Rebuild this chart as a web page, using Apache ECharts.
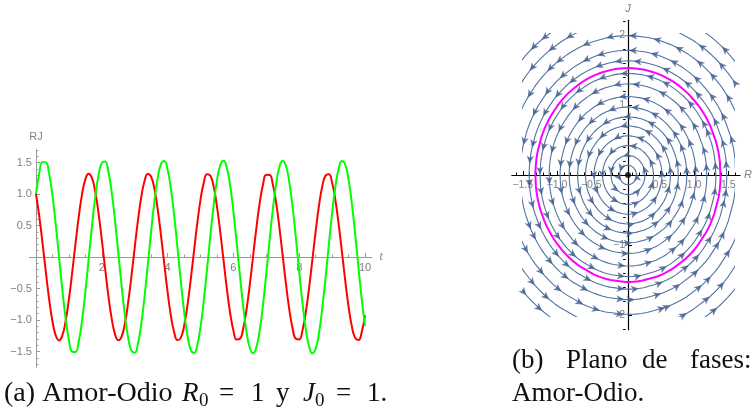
<!DOCTYPE html>
<html>
<head>
<meta charset="utf-8">
<title>Amor-Odio</title>
<script src="https://cdn.jsdelivr.net/npm/echarts@6.0.0/dist/echarts.min.js"></script>
<style>
  html, body { margin: 0; padding: 0; background: #ffffff; }
  #chart { width: 755px; height: 413px; }
</style>
</head>
<body>
<div id="chart"></div>
<script>
// Love–hate model with R(0) = 1, J(0) = 1; values sampled every 0.1 time units, t = 0 … 10
const tStep = 0.1;
const rValues = [
  1.000, 0.647, 0.216, -0.240, -0.667, -1.015, -1.243, -1.323, -1.246, -1.020,
  -0.674, -0.247, 0.208, 0.640, 0.995, 1.232, 1.322, 1.256, 1.040, 0.701,
  0.278, -0.177, -0.612, -0.974, -1.220, -1.321, -1.266, -1.060, -0.728, -0.309,
  0.146, 0.584, 0.952, 1.207, 1.319, 1.274, 1.078, 0.754, 0.340, -0.114,
  -0.555, -0.930, -1.194, -1.316, -1.283, -1.096, -0.780, -0.370, 0.083, 0.526,
  0.907, 1.180, 1.313, 1.290, 1.114, 0.805, 0.401, -0.051, -0.497, -0.884,
  -1.165, -1.309, -1.297, -1.130, -0.830, -0.431, 0.020, 0.468, 0.860, 1.150,
  1.304, 1.302, 1.146, 0.854, 0.460, 0.012, -0.438, -0.836, -1.134, -1.298,
  -1.308, -1.162, -0.878, -0.490, -0.044, 0.408, 0.811, 1.118, 1.292, 1.312,
  1.177, 0.901, 0.519, 0.075, -0.378, -0.786, -1.100, -1.284, -1.316, -1.191,
  -0.924
];
const jValues = [
  1.000, 1.333, 1.507, 1.502, 1.319, 0.979, 0.523, 0.005, -0.514, -0.972,
  -1.314, -1.501, -1.508, -1.337, -1.007, -0.557, -0.041, 0.480, 0.944, 1.295,
  1.493, 1.514, 1.354, 1.034, 0.591, 0.078, -0.445, -0.915, -1.276, -1.485,
  -1.518, -1.371, -1.061, -0.624, -0.114, 0.410, 0.885, 1.255, 1.476, 1.522,
  1.387, 1.087, 0.658, 0.150, -0.375, -0.855, -1.234, -1.466, -1.525, -1.401,
  -1.112, -0.690, -0.187, 0.339, 0.825, 1.212, 1.456, 1.526, 1.416, 1.137,
  0.723, 0.223, -0.303, -0.794, -1.190, -1.444, -1.527, -1.429, -1.161, -0.755,
  -0.259, 0.268, 0.762, 1.166, 1.432, 1.527, 1.441, 1.184, 0.786, 0.295,
  -0.232, -0.730, -1.142, -1.419, -1.527, -1.453, -1.207, -0.817, -0.331, 0.195,
  0.698, 1.118, 1.405, 1.525, 1.464, 1.229, 0.848, 0.366, -0.159, -0.665,
  -1.093
];

// Tick positions carrying labels
const tTicks = [2, 4, 6, 8, 10];
const rjTicks = [-1.5, -1.0, -0.5, 0.5, 1.0, 1.5];
const phaseRTicks = [-1.5, -1.0, -0.5, 0.5, 1.0, 1.5];
const phaseJTicks = [-2, -1, 1, 2];

// Phase plane: J-axis intercepts of the streamlines that are drawn
const streamLevels = [0.14, 0.28, 0.42, 0.56, 0.70, 0.83, 0.97, 1.12, 1.30, 1.45, 1.63, 1.78, 1.99, 2.20, 2.40];

const tValues = rValues.map((_, i) => +(i * tStep).toFixed(1));

const AXIS_GRAY = '#9a9a9a';
const TEXT_GRAY = '#808080';
const STREAM = '#5272a3';
const ARROW = '#3f5d8f';
const PX = 70; // pixels per unit in both phase-plane grids
const SANS = '"Liberation Sans", Arial, sans-serif';
const SERIF = '"Liberation Serif", "Times New Roman", serif';

function minorTicks(lo, hi, step, majors) {
  const out = [];
  const n0 = Math.ceil(lo / step - 1e-9), n1 = Math.floor(hi / step + 1e-9);
  for (let n = n0; n <= n1; n++) {
    const v = +(n * step).toFixed(4);
    if (Math.abs(v) > 1e-9 && !majors.some(m => Math.abs(m - v) < 1e-6)) out.push(v);
  }
  return out;
}
const fmt1 = v => (v < 0 ? '\u2212' : '') + Math.abs(v).toFixed(1);
const fmt0 = v => (v < 0 ? '\u2212' : '') + Math.abs(v).toFixed(0);

// closed orbit in the (R, J) plane, points ordered by polar angle
const orbit = rValues.map((r, i) => [r, jValues[i]])
  .sort((a, b) => Math.atan2(a[1], a[0]) - Math.atan2(b[1], b[0]));
orbit.push(orbit[0]);
const jPeak = Math.max(...jValues);

// streamlines (scaled copies of the orbit) and their arrowheads
const ARROW_GAP = 24;
const streamSeries = [];
const arrowData = [];
streamLevels.forEach((lev, n) => {
  const s = lev / jPeak;
  const pts = orbit.map(p => [p[0] * s, p[1] * s]);
  streamSeries.push({
    type: 'line', xAxisIndex: 4, yAxisIndex: 4, data: pts,
    showSymbol: false, silent: true, clip: true,
    lineStyle: { color: STREAM, width: 1.1 }, z: 3
  });
  let acc = 0;
  let next = 5 + (n * 11) % ARROW_GAP;
  for (let i = 1; i < pts.length; i++) {
    acc += Math.hypot(pts[i][0] - pts[i - 1][0], pts[i][1] - pts[i - 1][1]) * PX;
    if (acc >= next) {
      const a = pts[i - 1];
      const b = i + 1 < pts.length ? pts[i + 1] : pts[1];
      const ang = Math.atan2(b[1] - a[1], b[0] - a[0]) * 180 / Math.PI;
      arrowData.push({ value: pts[i], symbolRotate: ang - 90 });
      next += ARROW_GAP;
    }
  }
});

const grayLabel = { color: TEXT_GRAY, fontFamily: SANS, fontSize: 11 };

// axis lines sit on the zero of the other axis, placed with offsets from the grid edges
const option = {
  animation: false,
  backgroundColor: '#ffffff',
  grid: [
    { left: 29.4, top: 149.9, width: 342.2, height: 217.4 },
    { left: 511.8, top: 20.3, width: 233.1, height: 309.4 },
    { left: 523, top: 33.6, width: 210, height: 282.8 }
  ],
  xAxis: [
    { // t axis
      type: 'value', gridIndex: 0, min: -0.2, max: 10.2, position: 'bottom', offset: -110.3,
      axisLine: { onZero: false, lineStyle: { color: AXIS_GRAY, width: 1 } },
      axisTick: { show: true, inside: true, length: 4, customValues: tTicks, lineStyle: { color: AXIS_GRAY } },
      axisLabel: { customValues: tTicks, margin: 5, formatter: fmt0, ...grayLabel },
      splitLine: { show: false },
      name: 't', nameLocation: 'end', nameGap: 8,
      nameTextStyle: { color: TEXT_GRAY, fontFamily: SERIF, fontStyle: 'italic', fontSize: 12 }
    },
    { // t minor ticks
      type: 'value', gridIndex: 0, min: -0.2, max: 10.2, position: 'top', offset: -107.1,
      axisLine: { show: false, onZero: false },
      axisTick: { show: true, inside: false, length: 2.5, customValues: minorTicks(-0.2, 10.2, 0.5, tTicks), lineStyle: { color: AXIS_GRAY } },
      axisLabel: { show: false }, splitLine: { show: false }
    },
    { // R axis
      type: 'value', gridIndex: 1, min: -1.66, max: 1.67, position: 'bottom', offset: -154.7,
      axisLine: { onZero: false, lineStyle: { color: '#000000', width: 1.2 } },
      axisTick: { show: true, inside: true, length: 4, customValues: phaseRTicks, lineStyle: { color: '#000000' } },
      axisLabel: { customValues: phaseRTicks, margin: 5, formatter: fmt1, ...grayLabel, fontSize: 10.5 },
      splitLine: { show: false },
      name: 'R', nameLocation: 'end', nameGap: 4,
      nameTextStyle: { color: TEXT_GRAY, fontFamily: SANS, fontStyle: 'italic', fontSize: 11 }
    },
    { // R minor ticks
      type: 'value', gridIndex: 1, min: -1.66, max: 1.67, position: 'top', offset: -154.7,
      axisLine: { show: false, onZero: false },
      axisTick: { show: true, inside: false, length: 2.5, customValues: minorTicks(-1.66, 1.67, 0.1, phaseRTicks), lineStyle: { color: '#000000' } },
      axisLabel: { show: false }, splitLine: { show: false }
    },
    { // stream region
      type: 'value', gridIndex: 2, min: -1.5, max: 1.5, show: false
    }
  ],
  yAxis: [
    { // RJ axis
      type: 'value', gridIndex: 0, min: -1.75, max: 1.70, position: 'left', offset: -6.58,
      axisLine: { show: true, onZero: false, lineStyle: { color: AXIS_GRAY, width: 1 } },
      axisTick: { show: true, inside: true, length: 4, customValues: rjTicks, lineStyle: { color: AXIS_GRAY } },
      axisLabel: { customValues: rjTicks, margin: 4, formatter: fmt1, ...grayLabel },
      splitLine: { show: false },
      name: 'RJ', nameLocation: 'end', nameGap: 7,
      nameTextStyle: { color: TEXT_GRAY, fontFamily: SANS, fontSize: 11 }
    },
    { // RJ minor ticks
      type: 'value', gridIndex: 0, min: -1.75, max: 1.70, position: 'right', offset: -335.62,
      axisLine: { show: false, onZero: false },
      axisTick: { show: true, inside: false, length: 2.5, customValues: minorTicks(-1.75, 1.70, 0.1, rjTicks), lineStyle: { color: AXIS_GRAY } },
      axisLabel: { show: false }, splitLine: { show: false }
    },
    { // J axis
      type: 'value', gridIndex: 1, min: -2.21, max: 2.21, position: 'left', offset: -116.2,
      axisLine: { show: true, onZero: false, lineStyle: { color: '#000000', width: 1.2 } },
      axisTick: { show: true, inside: true, length: 4, customValues: phaseJTicks, lineStyle: { color: '#000000' } },
      axisLabel: { customValues: phaseJTicks, margin: 3, formatter: fmt0, ...grayLabel, fontSize: 10.5 },
      splitLine: { show: false },
      name: 'J', nameLocation: 'end', nameGap: 6,
      nameTextStyle: { color: TEXT_GRAY, fontFamily: SANS, fontStyle: 'italic', fontSize: 11 }
    },
    { // J minor ticks
      type: 'value', gridIndex: 1, min: -2.21, max: 2.21, position: 'right', offset: -116.9,
      axisLine: { show: false, onZero: false },
      axisTick: { show: true, inside: false, length: 2.5, customValues: minorTicks(-2.21, 2.21, 0.2, phaseJTicks), lineStyle: { color: '#000000' } },
      axisLabel: { show: false }, splitLine: { show: false }
    },
    { // stream region
      type: 'value', gridIndex: 2, min: -2.02, max: 2.02, show: false
    }
  ],
  series: [
    {
      type: 'line', name: 'R', xAxisIndex: 0, yAxisIndex: 0,
      data: tValues.map((t, i) => [t, rValues[i]]),
      smooth: true, showSymbol: false, lineStyle: { color: '#ff0000', width: 2 }, z: 3
    },
    {
      type: 'line', name: 'J', xAxisIndex: 0, yAxisIndex: 0,
      data: tValues.map((t, i) => [t, jValues[i]]),
      smooth: true, showSymbol: false, lineStyle: { color: '#00ff00', width: 2 }, z: 4
    },
    ...streamSeries,
    {
      type: 'scatter', xAxisIndex: 4, yAxisIndex: 4, data: arrowData,
      symbol: 'arrow', symbolSize: [5.5, 8], itemStyle: { color: ARROW }, silent: true, z: 4
    },
    {
      type: 'line', name: 'orbit', xAxisIndex: 4, yAxisIndex: 4, data: orbit,
      showSymbol: false, lineStyle: { color: '#ff00ff', width: 2 }, z: 6
    },
    {
      type: 'scatter', xAxisIndex: 4, yAxisIndex: 4, data: [[0, 0]],
      symbolSize: 6, itemStyle: { color: '#000000' }, z: 7
    }
  ],
  graphic: []
};

// captions
function cap(text, x, baseline, size, italic, sx) {
  return {
    type: 'text', x: x, y: baseline - 0.34 * size, scaleX: sx || 1, silent: true,
    style: {
      text: text, fill: '#111111', align: 'left', verticalAlign: 'middle',
      font: (italic ? 'italic ' : '') + size + 'px ' + SERIF
    }
  };
}
option.graphic = [
  cap('(a) Amor-Odio', 4, 403, 27, false, 1.04),
  cap('R', 182, 403, 27, true),
  cap('0', 199, 407, 19),
  cap('=', 219, 403, 27),
  cap('1', 251, 403, 27),
  cap('y', 276, 403, 27),
  cap('J', 303, 403, 27, true),
  cap('0', 315, 407, 19),
  cap('=', 336, 403, 27),
  cap('1.', 367, 403, 27),
  cap('(b)', 512, 370, 27),
  cap('Plano', 566, 370, 27),
  cap('de', 642, 370, 27),
  cap('fases:', 690, 370, 27),
  cap('Amor-Odio.', 512, 403, 27)
];

const chart = echarts.init(document.getElementById('chart'), null, { renderer: 'canvas' });
chart.setOption(option);
</script>
</body>
</html>
